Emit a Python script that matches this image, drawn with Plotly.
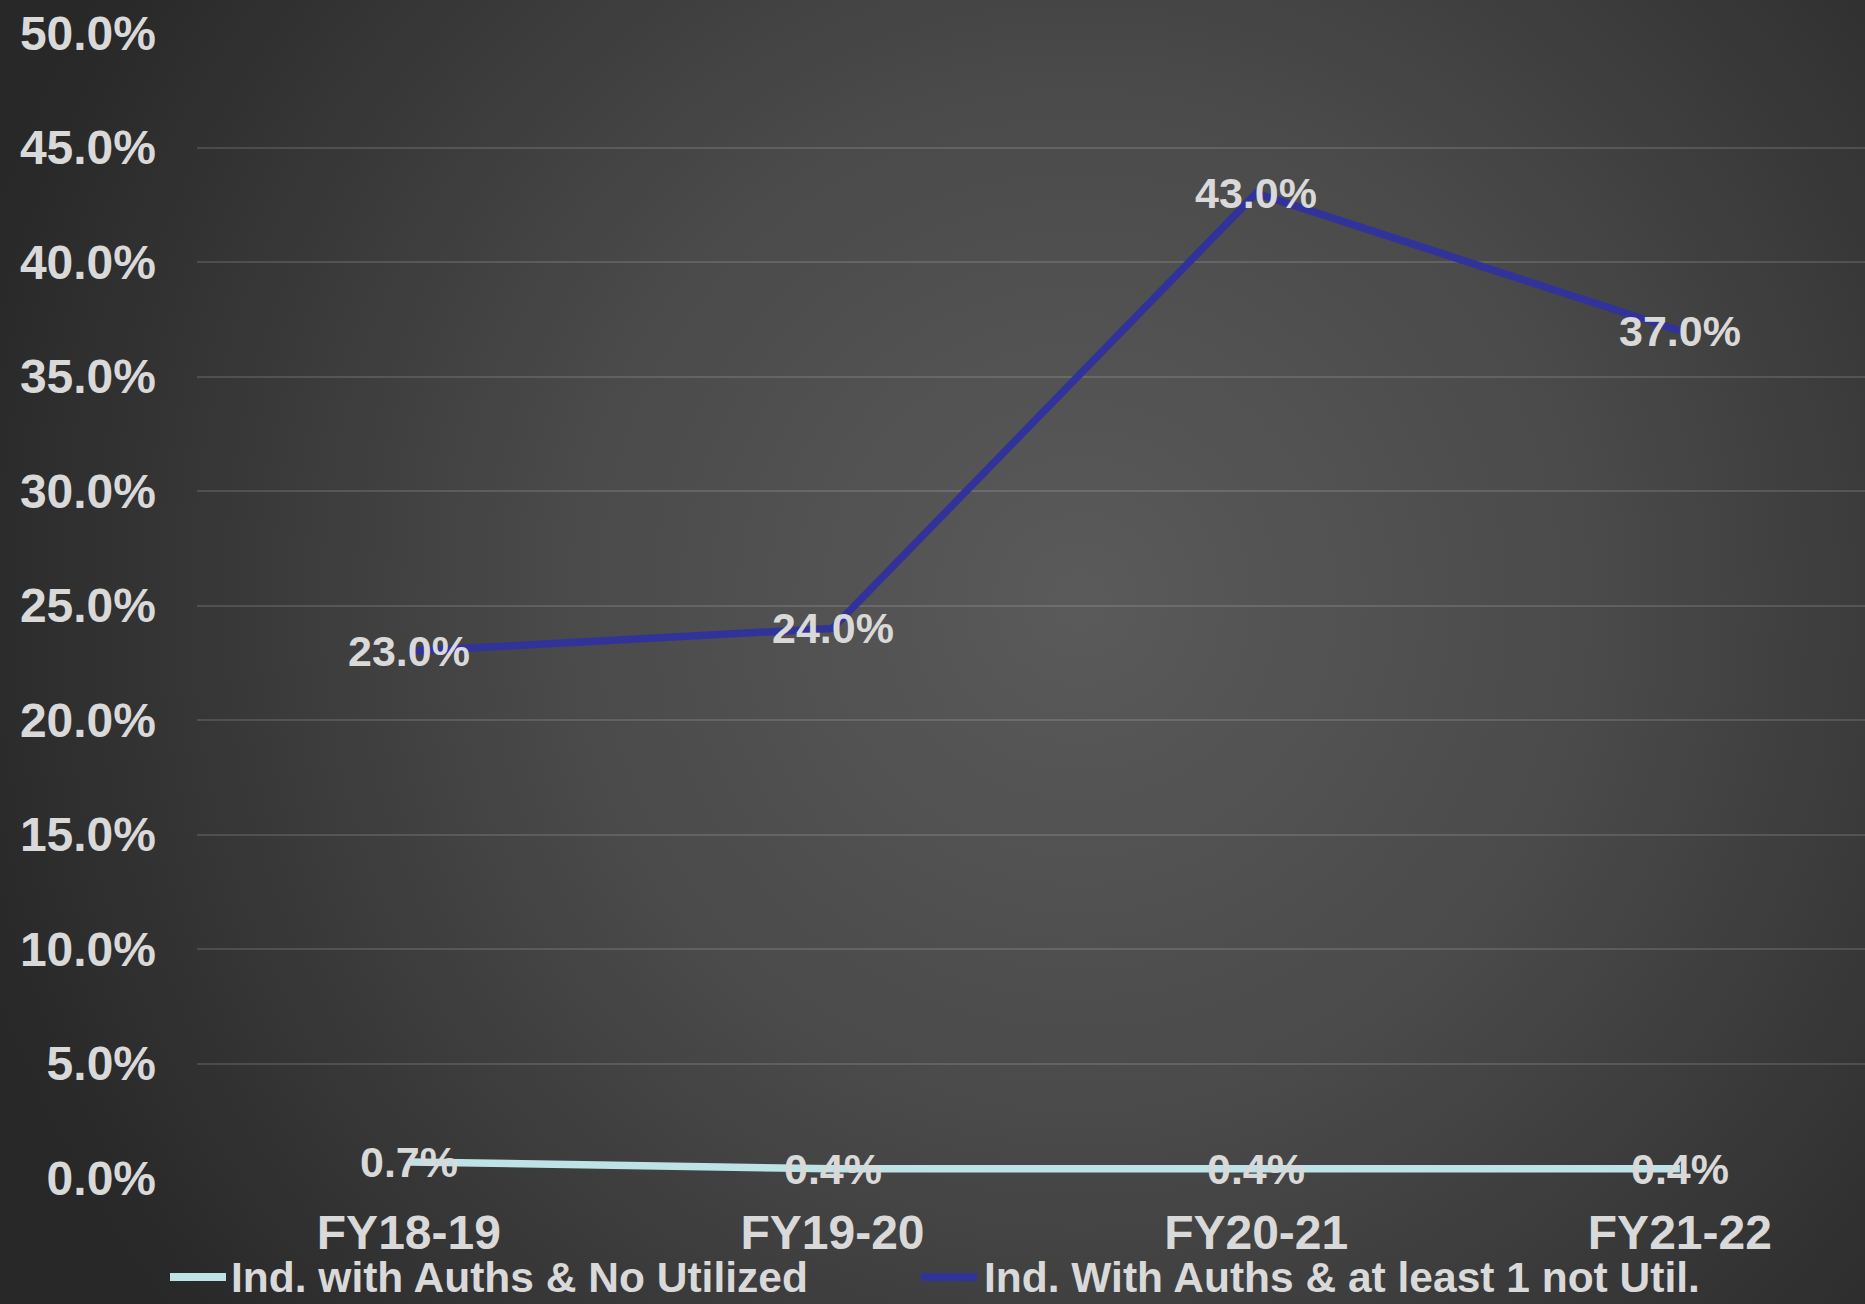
import base64
import plotly.graph_objects as go

# Fiscal years and the two utilization series (percent)
years = ["FY18-19", "FY19-20", "FY20-21", "FY21-22"]
no_utilized = [0.7, 0.4, 0.4, 0.4]
not_util_one = [23.0, 24.0, 43.0, 37.0]
series_names = ["Ind. with Auths & No Utilized", "Ind. With Auths & at least 1 not Util."]
y_ticks = [0, 5, 10, 15, 20, 25, 30, 35, 40, 45, 50]

FONT = "Liberation Sans, Arial, sans-serif"
TEXT = "#d9d9d9"
COLORS = ["#bde3e6", "#31339a"]

W, H = 1865, 1304
ML, MT, MB = 197, 33, 126
PW, PH = W - ML, H - MT - MB

# radial background gradient as an inline SVG
svg = (
    f'<svg xmlns="http://www.w3.org/2000/svg" width="{W}" height="{H}" '
    f'preserveAspectRatio="none" viewBox="0 0 {W} {H}">'
    '<defs><radialGradient id="g" gradientUnits="userSpaceOnUse" cx="1080" cy="600" r="1150">'
    '<stop offset="0" stop-color="#5a5a5a"/>'
    '<stop offset="0.45" stop-color="#4a4a4a"/>'
    '<stop offset="1" stop-color="#282828"/>'
    '</radialGradient></defs>'
    f'<rect width="{W}" height="{H}" fill="url(#g)"/></svg>'
)
bg_uri = "data:image/svg+xml;base64," + base64.b64encode(svg.encode()).decode()

x_idx = list(range(len(years)))

fig = go.Figure()
annotations = []
for name, vals, color in zip(series_names, [no_utilized, not_util_one], COLORS):
    fig.add_trace(go.Scatter(
        x=x_idx, y=vals, name=name, mode="lines",
        line=dict(color=color, width=7.5),
        showlegend=False,
    ))
    # value labels centred on each point
    for xi, v in zip(x_idx, vals):
        annotations.append(dict(
            x=xi, y=v, xref="x", yref="y", text=f"{v:.1f}%", showarrow=False,
            xanchor="center", yanchor="middle", yshift=0,
            font=dict(family=FONT, size=43, color=TEXT, weight="bold"),
        ))


def px_x(px):
    return (px - ML) / PW


def px_y(py):
    return (H - MB - py) / PH


# legend drawn below the axis: a line sample followed by the series name
legend_line_x = [(170, 226), (921, 977)]
legend_text_x = [229, 982]
legend_y = 1277
shapes = []
for (x0, x1), tx, name, color in zip(legend_line_x, legend_text_x, series_names, COLORS):
    shapes.append(dict(
        type="line", xref="paper", yref="paper",
        x0=px_x(x0), x1=px_x(x1), y0=px_y(legend_y), y1=px_y(legend_y),
        line=dict(color=color, width=8),
    ))
    annotations.append(dict(
        x=px_x(tx), y=px_y(legend_y), xref="paper", yref="paper", text=name,
        showarrow=False, xanchor="left", yanchor="middle",
        font=dict(family=FONT, size=42.5, color=TEXT, weight="bold"),
    ))

fig.update_layout(
    width=W, height=H,
    margin=dict(l=ML, r=0, t=MT, b=MB),
    paper_bgcolor="#2d2d2d",
    plot_bgcolor="rgba(0,0,0,0)",
    images=[dict(source=bg_uri, xref="paper", yref="paper", x=-ML / PW, y=1 + MT / PH,
                 sizex=W / PW, sizey=H / PH, xanchor="left", yanchor="top",
                 sizing="stretch", layer="below")],
    showlegend=False,
    shapes=shapes,
    annotations=annotations,
    xaxis=dict(
        range=[-0.5, 3.437], tickmode="array", tickvals=x_idx, ticktext=years,
        showgrid=False, zeroline=False, showline=False, ticks="",
        tickfont=dict(family=FONT, size=48, color=TEXT, weight="bold"),
        ticklabelstandoff=22,
    ),
    yaxis=dict(
        range=[0, 50], tickmode="array", tickvals=y_ticks,
        ticktext=[f"{v:.1f}%" for v in y_ticks],
        showgrid=True, gridcolor="rgba(255,255,255,0.13)", gridwidth=2,
        zeroline=False, showline=False, ticks="",
        tickfont=dict(family=FONT, size=48, color=TEXT, weight="bold"),
        ticklabelstandoff=40,
    ),
)

fig.write_html("out.html")
